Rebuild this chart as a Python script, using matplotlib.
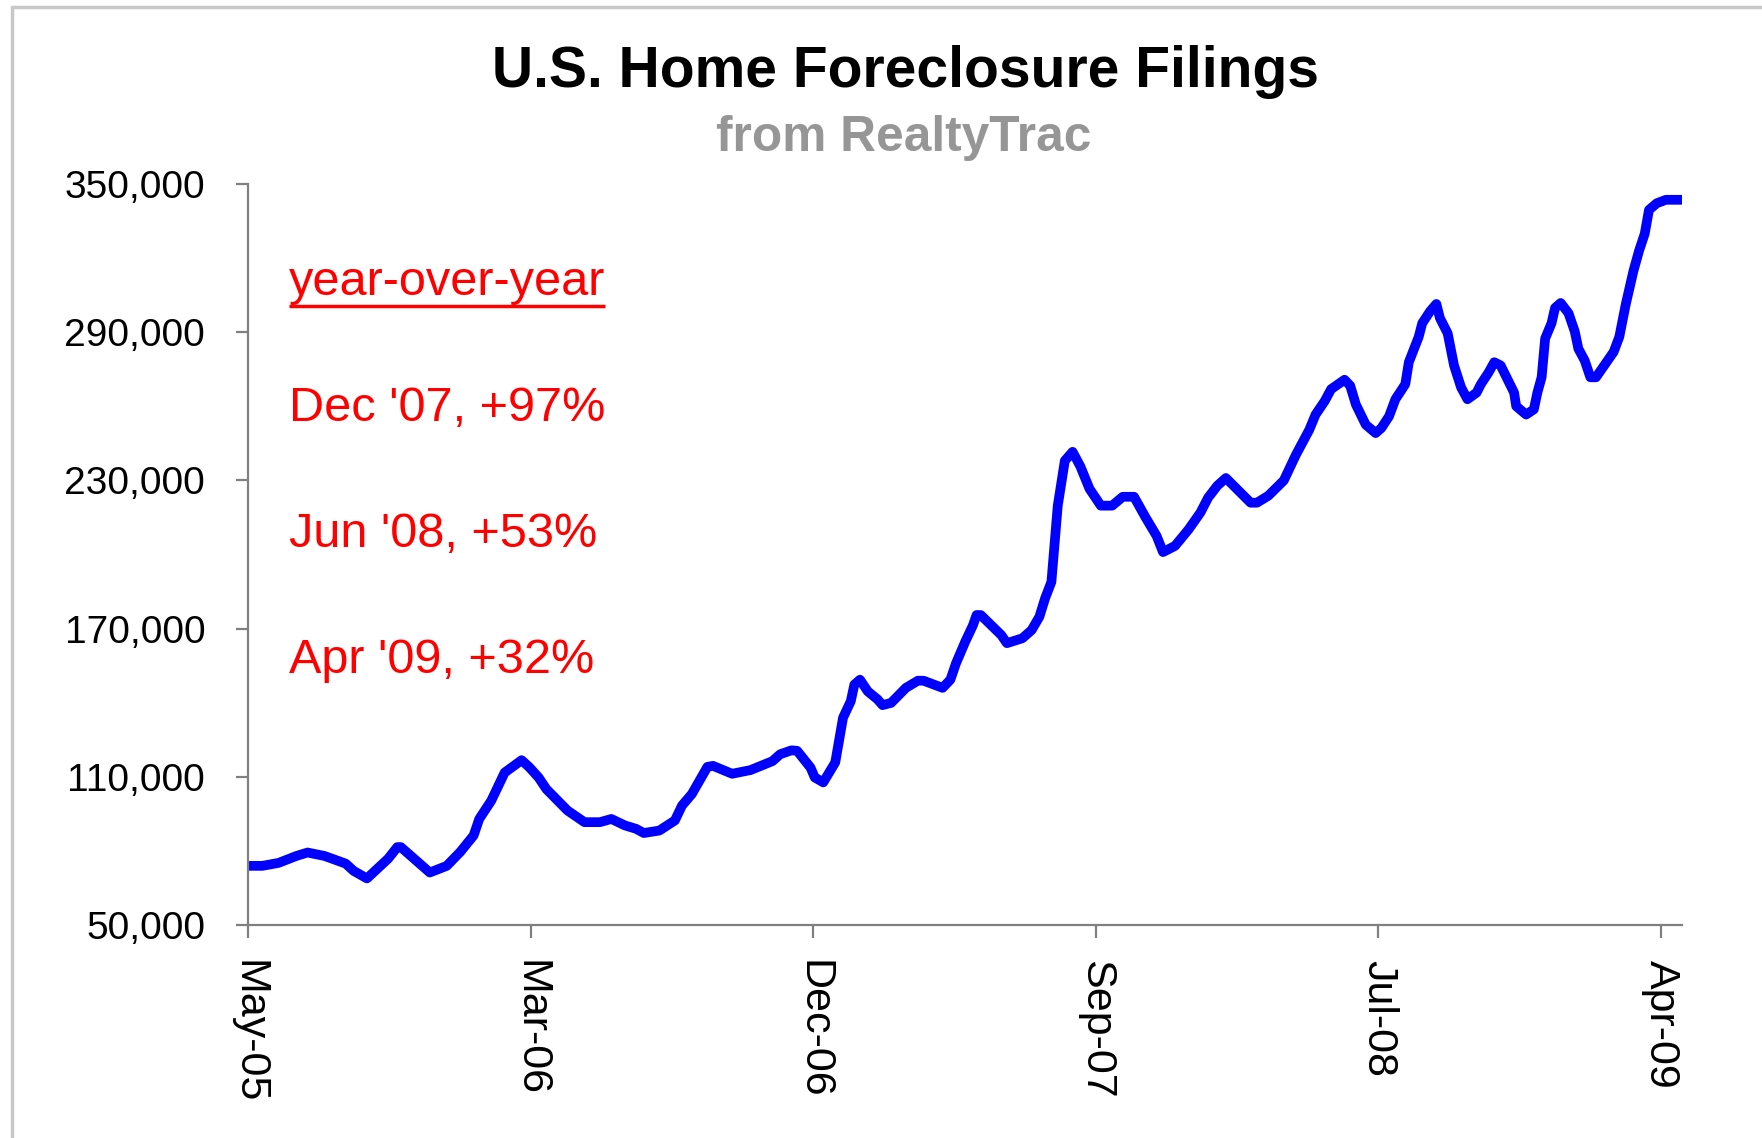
import matplotlib
matplotlib.use('Agg')
import matplotlib.pyplot as plt
import matplotlib.transforms as mtransforms
from matplotlib.patches import Rectangle

plt.rcParams['font.family'] = ['Liberation Sans', 'DejaVu Sans']

# weeks since May-05
weeks = [0, 2, 4.3, 6.8, 8.4, 10.8, 13.8, 14.9, 16.8, 19.8, 21.1, 21.6, 25.7, 28.1,
         30.0, 31.9, 32.7, 34.4, 36.3, 38.7, 39.8, 41.1, 42.2, 45.2, 47.6, 49.8,
         51.4, 53.3, 54.9, 56.0, 58.2, 60.4, 61.4, 62.8, 65.0, 65.8, 68.5, 71.1,
         74.2, 75.3, 76.9, 77.7, 79.6, 80.2, 81.4, 83.1, 84.2, 85.3, 85.8, 86.6,
         87.7, 89.1, 89.8, 91.0, 93.1, 94.8, 95.6, 98.3, 99.4, 100.2, 101.5, 102.6,
         103.1, 103.7, 106.6, 107.4, 109.6, 110.9, 112.0, 112.8, 113.7, 114.6,
         115.6, 116.7, 117.8, 119.1, 120.7, 122.3, 123.8, 125.4, 127.0, 128.6,
         129.5, 131.2, 133.1, 134.8, 135.9, 137.2, 138.4, 141.9, 142.8, 144.4,
         146.6, 148.3, 150.2, 151.1, 152.4, 153.3, 155.2, 156.0, 156.8, 158.2,
         159.6, 160.4, 161.5, 162.4, 163.8, 164.3, 165.7, 166.2, 167.3, 168.2,
         168.7, 169.8, 170.7, 171.7, 172.6, 173.9, 174.5, 175.6, 176.4, 177.3,
         179.2, 179.5, 180.9, 182.0, 182.5, 183.1, 183.6, 184.5, 185.0, 185.8,
         186.9, 187.8, 188.3, 189.2, 190.0, 190.8, 193.3, 194.1, 195.0, 196.1,
         196.9, 197.7, 198.3, 199.4, 200.7, 203.0]
filings = [73900, 73900, 75100, 77900, 79300, 77900, 74800, 71900, 68800, 76800,
           81500, 81500, 71200, 73900, 79500, 86200, 92900, 100300, 111700, 116700,
           113800, 109700, 105000, 96300, 91600, 91600, 92900, 90300, 88900, 87200,
           88200, 92300, 98300, 103000, 114000, 114400, 111200, 112700, 116300,
           119100, 120700, 120500, 113700, 109700, 107700, 115800, 133900, 140600,
           147300, 149300, 144600, 141300, 139000, 139900, 146000, 148900, 148900,
           146000, 149300, 156000, 164700, 171400, 175500, 175500, 167400, 164100,
           166100, 169400, 174800, 182200, 188900, 219800, 238000, 241600, 235700,
           226600, 219800, 219800, 223400, 223400, 215200, 207500, 201000, 203500,
           210100, 217000, 223100, 227900, 231000, 221000, 221000, 223800, 230000,
           240300, 250500, 256700, 262200, 267000, 270800, 268400, 260800, 252600,
           249200, 251200, 256000, 262900, 269000, 277900, 288200, 293700, 298500,
           301500, 295800, 289600, 276600, 267700, 262900, 265600, 269000, 273800,
           277900, 276600, 265600, 260100, 256700, 258800, 265600, 271800, 287500,
           293700, 299900, 301900, 297800, 290300, 283400, 278600, 271800, 271800,
           282100, 288200, 301200, 314900, 323100, 330000, 339600, 342300, 343700,
           343700]

tick_weeks = [0, 40, 80, 120, 160, 200]
tick_labels = ['May-05', 'Mar-06', 'Dec-06', 'Sep-07', 'Jul-08', 'Apr-09']
y_ticks = [50000, 110000, 170000, 230000, 290000, 350000]

notes = ["year-over-year", "Dec '07, +97%", "Jun '08, +53%", "Apr '09, +32%"]
note_y = [305100, 254000, 203000, 152000]

fig = plt.figure(figsize=(17.62, 11.38), dpi=100)
ax = fig.add_axes([0.1409, 0.1873, 0.8138, 0.6508])

ax.plot(weeks, filings, color='#0000FF', lw=7, solid_joinstyle='round',
        solid_capstyle='butt')

ax.set_xlim(0, 203)
ax.set_ylim(50000, 350000)
ax.set_xticks(tick_weeks)
ax.set_xticklabels(tick_labels, rotation=-90, fontsize=31)
ax.set_yticks(y_ticks)
ax.set_yticklabels([f'{v:,}' for v in y_ticks], fontsize=28)

for side in ['top', 'right']:
    ax.spines[side].set_visible(False)
for side in ['left', 'bottom']:
    ax.spines[side].set_color('#808080')
    ax.spines[side].set_linewidth(1.6)
ax.tick_params(axis='both', color='#808080', width=1.6, length=9, direction='out')
ax.tick_params(axis='y', pad=22)
ax.tick_params(axis='x', pad=16)

# red notes
texts = []
for s, yv in zip(notes, note_y):
    texts.append(ax.text(5.7, yv, s, color='#FF0000', fontsize=35, va='baseline', ha='left'))

# underline the first note
fig.canvas.draw()
bb = texts[0].get_window_extent()
inv = ax.transData.inverted()
x0 = inv.transform((bb.x0, 0))[0]
x1 = inv.transform((bb.x1, 0))[0]
under = mtransforms.offset_copy(ax.transData, fig=fig, y=-7.5, units='points')
ax.plot([x0, x1], [note_y[0], note_y[0]], color='#FF0000', lw=2.5, transform=under,
        solid_capstyle='butt')

fig.text(0.514, 0.937, 'U.S. Home Foreclosure Filings', ha='center', va='center',
         fontsize=41, fontweight='bold', color='black')
fig.text(0.513, 0.879, 'from RealtyTrac', ha='center', va='center',
         fontsize=35.7, fontweight='bold', color='#969696')

# light frame around the chart
fig.add_artist(Rectangle((12 / 1762, -0.05), 1.1, 1.05 - 7 / 1138,
                         transform=fig.transFigure, fill=False,
                         edgecolor='#C8C8C8', lw=2.5))

plt.savefig('out.png', dpi=100)
